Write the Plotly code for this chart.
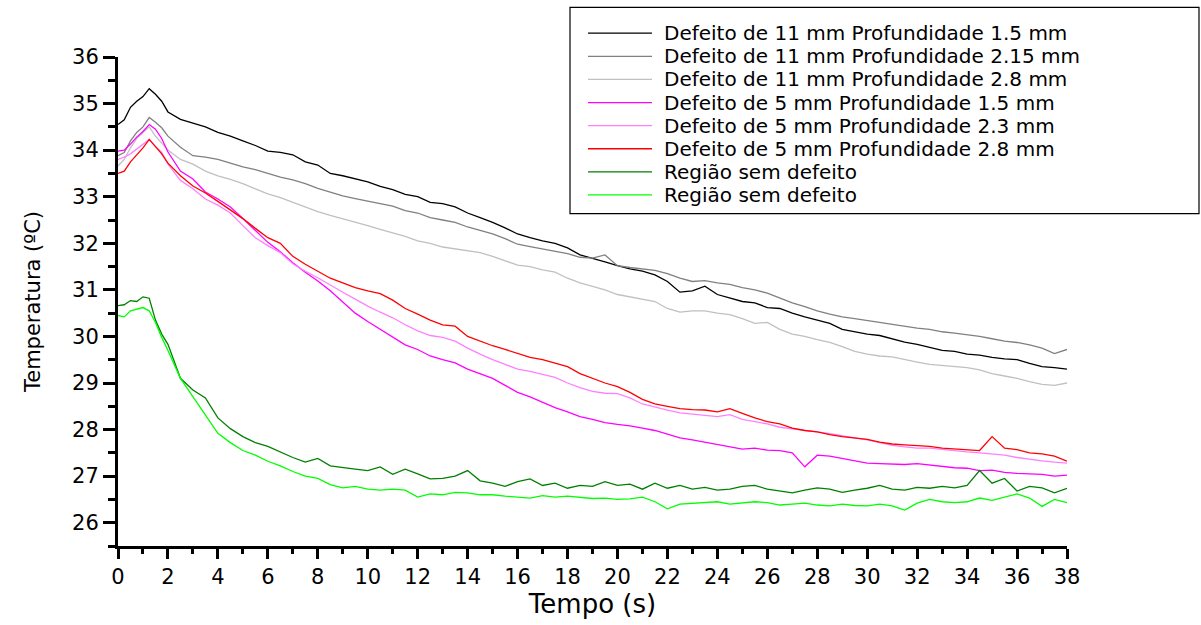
import plotly.graph_objects as go

# ---------------- data ----------------
TIME = [0, 0.25, 0.5, 0.75, 1.0, 1.25, 1.5, 1.75, 2.0, 2.5, 3.0, 3.5, 4.0, 4.5, 5.0,
        5.5, 6.0, 6.5, 7.0, 7.5, 8.0, 8.5, 9.0, 9.5, 10.0, 10.5, 11.0, 11.5, 12.0,
        12.5, 13.0, 13.5, 14.0, 14.5, 15.0, 15.5, 16.0, 16.5, 17.0, 17.5, 18.0,
        18.5, 19.0, 19.5, 20.0, 20.5, 21.0, 21.5, 22.0, 22.5, 23.0, 23.5, 24.0,
        24.5, 25.0, 25.5, 26.0, 26.5, 27.0, 27.5, 28.0, 28.5, 29.0, 29.5, 30.0,
        30.5, 31.0, 31.5, 32.0, 32.5, 33.0, 33.5, 34.0, 34.5, 35.0, 35.5, 36.0,
        36.5, 37.0, 37.5, 38.0]

D11_P15 = [34.55, 34.65, 34.92, 35.05, 35.15, 35.32, 35.2, 35.05, 34.82, 34.66, 34.58,
           34.5, 34.38, 34.3, 34.2, 34.1, 33.98, 33.95, 33.9, 33.75, 33.68, 33.5, 33.45,
           33.38, 33.32, 33.22, 33.15, 33.05, 33.0, 32.88, 32.85, 32.78, 32.65, 32.55,
           32.45, 32.33, 32.2, 32.12, 32.05, 32.0, 31.9, 31.75, 31.68, 31.6, 31.52,
           31.45, 31.4, 31.32, 31.18, 30.95, 30.98, 31.08, 30.9, 30.83, 30.75, 30.72,
           30.62, 30.6, 30.5, 30.42, 30.35, 30.28, 30.15, 30.1, 30.05, 30.02, 29.95,
           29.88, 29.83, 29.76, 29.7, 29.68, 29.62, 29.6, 29.55, 29.52, 29.5, 29.42,
           29.35, 29.33, 29.3]

D11_P215 = [33.88, 33.95, 34.2, 34.38, 34.5, 34.7, 34.6, 34.48, 34.3, 34.06, 33.88,
            33.85, 33.8, 33.72, 33.64, 33.58, 33.5, 33.42, 33.36, 33.28, 33.18, 33.1,
            33.02, 32.96, 32.9, 32.85, 32.8, 32.7, 32.65, 32.55, 32.5, 32.45, 32.35,
            32.27, 32.2, 32.1, 31.98, 31.93, 31.88, 31.84, 31.78, 31.7, 31.68, 31.75,
            31.52, 31.48, 31.45, 31.42, 31.35, 31.25, 31.18, 31.2, 31.15, 31.12, 31.05,
            31.0, 30.93, 30.82, 30.72, 30.64, 30.55, 30.48, 30.42, 30.38, 30.34, 30.3,
            30.25, 30.22, 30.18, 30.15, 30.1, 30.07, 30.04, 30.0, 29.95, 29.9, 29.87,
            29.82, 29.75, 29.63, 29.72]

D11_P28 = [33.66, 33.8, 34.05, 34.25, 34.38, 34.5, 34.3, 34.15, 34.0, 33.8, 33.7,
           33.55, 33.45, 33.37, 33.28, 33.17, 33.06, 32.98, 32.88, 32.78, 32.68, 32.6,
           32.53, 32.45, 32.38, 32.3, 32.22, 32.15, 32.05, 32.0, 31.92, 31.88, 31.83,
           31.8, 31.72, 31.62, 31.53, 31.5, 31.43, 31.38, 31.25, 31.15, 31.08, 31.0,
           30.9, 30.85, 30.8, 30.75, 30.6, 30.52, 30.55, 30.55, 30.5, 30.47, 30.38,
           30.28, 30.3, 30.15, 30.05, 30.0, 29.93, 29.87, 29.78, 29.68, 29.62, 29.58,
           29.56, 29.5, 29.45, 29.4, 29.38, 29.36, 29.33, 29.28, 29.2, 29.15, 29.1,
           29.03, 28.97, 28.95, 29.0]

D5_P15 = [33.98, 34.0, 34.13, 34.28, 34.4, 34.55, 34.45, 34.25, 33.96, 33.55, 33.38,
          33.1, 32.95, 32.78, 32.53, 32.28, 32.02, 31.82, 31.58, 31.38, 31.19, 30.98,
          30.75, 30.5, 30.32, 30.15, 29.98, 29.82, 29.72, 29.58, 29.5, 29.43, 29.3,
          29.2, 29.1, 28.95, 28.8, 28.7, 28.58, 28.47, 28.38, 28.28, 28.22, 28.15,
          28.11, 28.08, 28.03, 27.98, 27.9, 27.82, 27.78, 27.73, 27.68, 27.62, 27.58,
          27.6, 27.56, 27.55, 27.5, 27.2, 27.45, 27.43, 27.38, 27.32, 27.28, 27.27,
          27.26, 27.25, 27.27, 27.24, 27.2, 27.18, 27.17, 27.12, 27.13, 27.08, 27.06,
          27.05, 27.04, 27.0, 27.02]

D5_P23 = [33.8, 33.85, 33.92, 34.02, 34.12, 34.23, 34.08, 33.95, 33.7, 33.35, 33.17,
          32.95, 32.82, 32.65, 32.38, 32.12, 31.95, 31.8, 31.56, 31.4, 31.26, 31.1,
          30.95, 30.8, 30.65, 30.52, 30.4, 30.25, 30.12, 30.02, 29.98, 29.9, 29.75,
          29.62, 29.5, 29.4, 29.3, 29.25, 29.18, 29.12, 29.0, 28.9, 28.82, 28.78,
          28.77, 28.68, 28.55, 28.48, 28.42, 28.36, 28.33, 28.3, 28.28, 28.32, 28.22,
          28.17, 28.12, 28.05, 28.02, 27.98, 27.95, 27.91, 27.86, 27.82, 27.78, 27.72,
          27.66, 27.63, 27.6, 27.6, 27.57, 27.55, 27.52, 27.5, 27.48, 27.45, 27.4,
          27.36, 27.33, 27.3, 27.28]

D5_P28 = [33.5, 33.55, 33.75, 33.9, 34.05, 34.23, 34.08, 33.92, 33.72, 33.45, 33.23,
          33.08, 32.9, 32.72, 32.53, 32.32, 32.12, 32.0, 31.72, 31.55, 31.4, 31.25,
          31.15, 31.05, 30.98, 30.92, 30.78, 30.6, 30.48, 30.35, 30.25, 30.22, 30.0,
          29.9, 29.8, 29.72, 29.63, 29.55, 29.5, 29.43, 29.35, 29.2, 29.1, 29.0,
          28.92, 28.8, 28.65, 28.55, 28.5, 28.45, 28.43, 28.42, 28.38, 28.45, 28.35,
          28.25, 28.17, 28.12, 28.03, 27.98, 27.95, 27.89, 27.85, 27.82, 27.79, 27.73,
          27.69, 27.67, 27.65, 27.64, 27.6, 27.58, 27.57, 27.55, 27.85, 27.6, 27.57,
          27.5, 27.48, 27.43, 27.32]

SEM_DEF_A = [30.66, 30.68, 30.77, 30.75, 30.85, 30.82, 30.35, 30.05, 29.83, 29.1, 28.85,
             28.68, 28.25, 28.02, 27.85, 27.72, 27.64, 27.52, 27.4, 27.3, 27.38, 27.22,
             27.18, 27.15, 27.12, 27.2, 27.04, 27.15, 27.05, 26.94, 26.95, 27.0, 27.12,
             26.9, 26.85, 26.78, 26.88, 26.94, 26.8, 26.85, 26.74, 26.8, 26.78, 26.88,
             26.8, 26.83, 26.72, 26.85, 26.74, 26.8, 26.72, 26.76, 26.7, 26.72, 26.78,
             26.8, 26.72, 26.68, 26.64, 26.7, 26.75, 26.72, 26.65, 26.7, 26.74, 26.8,
             26.72, 26.7, 26.76, 26.74, 26.78, 26.75, 26.8, 27.12, 26.85, 26.95, 26.68,
             26.78, 26.75, 26.64, 26.74]

SEM_DEF_B = [30.45, 30.42, 30.55, 30.58, 30.62, 30.55, 30.3, 29.98, 29.7, 29.1, 28.7,
             28.3, 27.92, 27.72, 27.55, 27.45, 27.32, 27.22, 27.1, 27.0, 26.95, 26.82,
             26.75, 26.78, 26.72, 26.7, 26.72, 26.7, 26.55, 26.62, 26.6, 26.65, 26.64,
             26.6, 26.6, 26.57, 26.55, 26.53, 26.58, 26.55, 26.57, 26.55, 26.52, 26.53,
             26.5, 26.51, 26.55, 26.45, 26.3, 26.4, 26.42, 26.43, 26.45, 26.4, 26.43,
             26.45, 26.43, 26.38, 26.4, 26.42, 26.38, 26.36, 26.4, 26.37, 26.36, 26.4,
             26.36, 26.27, 26.42, 26.5, 26.45, 26.43, 26.45, 26.53, 26.48, 26.55, 26.62,
             26.53, 26.35, 26.5, 26.43]

SERIES_NAMES = [
    "Defeito de 11 mm Profundidade 1.5 mm",
    "Defeito de 11 mm Profundidade 2.15 mm",
    "Defeito de 11 mm Profundidade 2.8 mm",
    "Defeito de 5 mm Profundidade 1.5 mm",
    "Defeito de 5 mm Profundidade 2.3 mm",
    "Defeito de 5 mm Profundidade 2.8 mm",
    "Região sem defeito",
    "Região sem defeito",
]
SERIES_VALUES = [D11_P15, D11_P215, D11_P28, D5_P15, D5_P23, D5_P28, SEM_DEF_A, SEM_DEF_B]
SERIES_COLORS = ["#000000", "#808080", "#c0c0c0", "#ff00ff", "#ff80ff", "#ff0000",
                 "#008000", "#00ff00"]

X_TICKS = list(range(0, 39, 2))
Y_TICKS = list(range(26, 37))

# ---------------- layout geometry (pixels) ----------------
W, H = 1201, 625
ML, MR, MT, MB = 118, 134, 57, 75
PW, PH = W - ML - MR, H - MT - MB


def px_x(px):
    return (px - ML) / PW


def px_y(py):
    return (H - MB - py) / PH


FONT = "DejaVu Sans"

fig = go.Figure()
for name, vals, col in zip(SERIES_NAMES, SERIES_VALUES, SERIES_COLORS):
    fig.add_trace(go.Scatter(x=TIME, y=vals, mode="lines", name=name,
                             line=dict(color=col, width=1.3), showlegend=False))

fig.update_layout(
    width=W, height=H,
    margin=dict(l=ML, r=MR, t=MT, b=MB),
    paper_bgcolor="white", plot_bgcolor="white",
    font=dict(family=FONT, color="black"),
    xaxis=dict(
        range=[0, 38], tickvals=X_TICKS, ticktext=[str(v) for v in X_TICKS],
        showgrid=False, zeroline=False, showline=True, linecolor="black", linewidth=3,
        ticks="outside", ticklen=10, tickwidth=3, tickcolor="black",
        tickfont=dict(family=FONT, size=21, color="black"),
        minor=dict(dtick=1, ticks="outside", ticklen=5, tickwidth=3, tickcolor="black"),
        title=dict(text="Tempo (s)", font=dict(family=FONT, size=26, color="black"),
                   standoff=6),
    ),
    yaxis=dict(
        range=[25.5, 36], tickvals=Y_TICKS, ticktext=[str(v) for v in Y_TICKS],
        showgrid=False, zeroline=False, showline=True, linecolor="black", linewidth=3,
        ticks="outside", ticklen=12, tickwidth=2.5, tickcolor="black",
        tickfont=dict(family=FONT, size=21, color="black"),
        minor=dict(dtick=0.5, ticks="outside", ticklen=7, tickwidth=2.5, tickcolor="black"),
        title=dict(text="Temperatura (ºC)", font=dict(family=FONT, size=21, color="black"),
                   standoff=26),
    ),
)

# ---------------- legend box drawn as shapes + text ----------------
LEG_LEFT, LEG_RIGHT, LEG_TOP, LEG_BOTTOM = 570, 1199, 7, 215
ROW0, ROW_STEP = 33, 23.3
fig.add_shape(type="rect", xref="paper", yref="paper",
              x0=px_x(LEG_LEFT), x1=px_x(LEG_RIGHT), y0=px_y(LEG_BOTTOM), y1=px_y(LEG_TOP),
              line=dict(color="black", width=1.2), fillcolor="white", layer="above")
for i, (name, col) in enumerate(zip(SERIES_NAMES, SERIES_COLORS)):
    yy = px_y(ROW0 + i * ROW_STEP)
    fig.add_shape(type="line", xref="paper", yref="paper",
                  x0=px_x(588), x1=px_x(652), y0=yy, y1=yy,
                  line=dict(color=col, width=1.3), layer="above")
    fig.add_annotation(xref="paper", yref="paper", x=px_x(662), y=yy,
                       xanchor="left", yanchor="middle", showarrow=False,
                       text=name, font=dict(family=FONT, size=20, color="black"))

fig.write_html("out.html")
